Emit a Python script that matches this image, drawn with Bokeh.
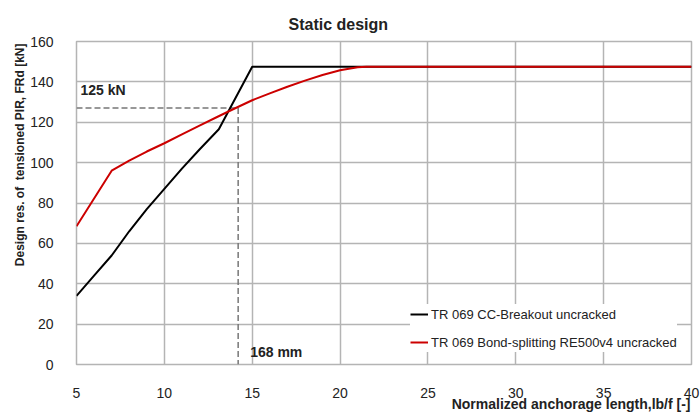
from bokeh.plotting import figure
from bokeh.models import (Range1d, FixedTicker, Label, Legend, LegendItem, Title)
from bokeh.embed import file_html
from bokeh.resources import INLINE

# ---- data ----
x_ticks = [5, 10, 15, 20, 25, 30, 35, 40]
y_ticks = [0, 20, 40, 60, 80, 100, 120, 140, 160]

cc_x = [5, 6, 7, 8, 9, 10, 11, 12, 13.1, 15, 40]
cc_y = [34, 44, 54, 66, 77, 87, 97, 106.5, 116.5, 147.5, 147.5]

bond_x = [5, 7, 8, 9, 10, 11, 12, 13, 14, 15, 16, 17, 18, 19, 20, 21, 21.5, 40]
bond_y = [68.5, 96, 101, 105.5, 109.6, 114, 118.3, 122.6, 126.8, 130.9,
          134.3, 137.6, 140.6, 143.4, 145.8, 147.2, 147.5, 147.5]

ref_x = 14.2      # 168 mm
ref_y = 127       # 125 kN line
series_names = ["TR 069 CC-Breakout uncracked",
                "TR 069 Bond-splitting RE500v4 uncracked"]
title_text = "Static design"
x_title = "Normalized anchorage length,lb/f [-]"
y_title = "Design res. of\u00a0 tensioned PIR, FRd [kN]"

FONT = "Liberation Sans"
TXT = "#222222"
GRID = "#b4b4b4"

p = figure(frame_width=615, frame_height=323, output_backend="svg",
           toolbar_location=None, x_range=Range1d(5, 40), y_range=Range1d(0, 160),
           min_border_left=76, min_border_right=9, min_border_top=41,
           min_border_bottom=48)
p.title.text = title_text
p.title.align = "left"
p.title.offset = 212
p.title.standoff = 18
p.title.text_font = FONT
p.title.text_font_size = "16px"
p.title.text_font_style = "bold"
p.title.text_color = TXT
p.background_fill_color = "white"
p.border_fill_color = "white"
p.outline_line_color = GRID
p.outline_line_width = 1.5

for ax, ticks in ((p.xaxis[0], x_ticks), (p.yaxis[0], y_ticks)):
    ax.ticker = FixedTicker(ticks=ticks)
    ax.axis_line_color = None
    ax.major_tick_line_color = None
    ax.minor_tick_line_color = None
    ax.major_label_text_font = FONT
    ax.major_label_text_font_size = "14px"
    ax.major_label_text_color = TXT
p.xaxis.major_label_standoff = 17
p.yaxis.major_label_standoff = 17

p.xgrid.ticker = FixedTicker(ticks=x_ticks)
p.ygrid.ticker = FixedTicker(ticks=y_ticks)
for g in (p.xgrid[0], p.ygrid[0]):
    g.grid_line_color = GRID
    g.grid_line_width = 1.5

# reference dashed lines
p.line([x_ticks[0], ref_x], [ref_y, ref_y], line_color="#777777", line_width=1.5,
       line_dash="6 3")
p.line([ref_x, ref_x], [ref_y, y_ticks[0]], line_color="#777777", line_width=1.5,
       line_dash="6 3")

r_cc = p.line(cc_x, cc_y, line_color="black", line_width=2)
r_bond = p.line(bond_x, bond_y, line_color="#cc0000", line_width=2)

legend = Legend(items=[LegendItem(label=series_names[0], renderers=[r_cc]),
                       LegendItem(label=series_names[1], renderers=[r_bond])],
                location=(334, 12), padding=10, margin=0, spacing=8,
                glyph_width=18, glyph_height=20, label_height=20, label_standoff=3,
                label_text_font=FONT, label_text_font_size="13px",
                label_text_color=TXT, border_line_color=None,
                background_fill_color="white", background_fill_alpha=1.0)
p.add_layout(legend)

# axis titles as side-panel titles (right / top aligned like the reference)
p.add_layout(Title(text=x_title, align="right", offset=1, standoff=-10,
                   vertical_align="top", text_font=FONT, text_font_size="14px",
                   text_font_style="bold", text_color=TXT), "below")
p.add_layout(Title(text=y_title, align="right", offset=2, standoff=0,
                   vertical_align="middle", text_font=FONT, text_font_size="12px",
                   text_font_style="bold", text_color=TXT), "left")

# annotations
for text, x, y, xo, yo in (("125 kN", 5, ref_y, 4, 10), ("168 mm", ref_x, 0, 12, 5)):
    p.add_layout(Label(x=x, y=y, x_offset=xo, y_offset=yo, text=text,
                       text_font=FONT, text_font_size="14px", text_font_style="bold",
                       text_color=TXT))

open("out.html", "w").write(file_html(p, INLINE))
